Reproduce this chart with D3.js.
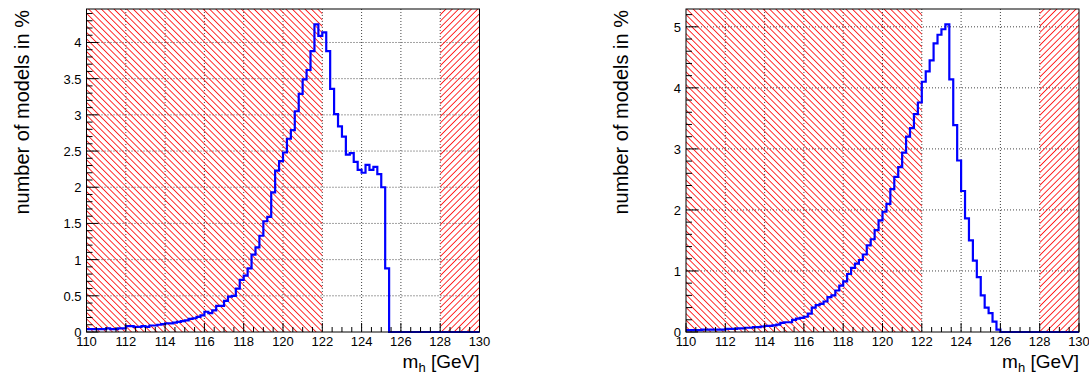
<!DOCTYPE html>
<html>
<head>
<meta charset="utf-8">
<script src="https://cdn.jsdelivr.net/npm/d3@7"></script>
<style>
  body { margin: 0; background: #fff; }
  text { font-family: "Liberation Sans", Arial, sans-serif; fill: #000; }
</style>
</head>
<body>
<div id="chart"></div>
<script>
// histogram bins: 100 bins of 0.2 GeV from 110 to 130
const massEdges = d3.range(0, 101).map(i => +(110 + i * 0.2).toFixed(1));

// left panel, % of models per bin
const leftValues = [
  0.04, 0.04, 0.04, 0.04, 0.04, 0.05, 0.04, 0.04, 0.05, 0.05,
  0.08, 0.08, 0.07, 0.07, 0.08, 0.07, 0.09, 0.09, 0.10, 0.11,
  0.12, 0.12, 0.13, 0.14, 0.15, 0.16, 0.18, 0.19, 0.21, 0.23,
  0.28, 0.26, 0.30, 0.36, 0.36, 0.43, 0.49, 0.50, 0.60, 0.72,
  0.78, 0.88, 1.07, 1.17, 1.33, 1.53, 1.59, 1.93, 2.23, 2.36,
  2.48, 2.67, 2.79, 3.05, 3.29, 3.49, 3.62, 3.88, 4.25, 4.09,
  4.14, 3.88, 3.36, 3.01, 2.84, 2.70, 2.45, 2.47, 2.35, 2.24,
  2.20, 2.31, 2.24, 2.28, 2.18, 2.00, 0.88, 0, 0, 0,
  0, 0, 0, 0, 0, 0, 0, 0, 0, 0,
  0, 0, 0, 0, 0, 0, 0, 0, 0, 0
];

// right panel, % of models per bin
const rightValues = [
  0.03, 0.03, 0.03, 0.03, 0.04, 0.04, 0.04, 0.04, 0.04, 0.04,
  0.05, 0.05, 0.05, 0.06, 0.06, 0.07, 0.07, 0.08, 0.08, 0.09,
  0.10, 0.10, 0.11, 0.12, 0.15, 0.16, 0.16, 0.20, 0.22, 0.23,
  0.25, 0.30, 0.40, 0.44, 0.46, 0.50, 0.57, 0.60, 0.68, 0.76,
  0.83, 0.95, 1.05, 1.12, 1.18, 1.27, 1.42, 1.52, 1.67, 1.83,
  1.97, 2.10, 2.34, 2.54, 2.70, 2.94, 3.20, 3.34, 3.57, 3.76,
  4.10, 4.27, 4.45, 4.73, 4.87, 4.96, 5.04, 4.14, 3.39, 2.81,
  2.31, 1.86, 1.50, 1.17, 0.90, 0.60, 0.40, 0.31, 0.17, 0.04,
  0, 0, 0, 0, 0, 0, 0, 0, 0, 0,
  0, 0, 0, 0, 0, 0, 0, 0, 0, 0
];

// excluded mass windows (hatched)
const excludedLow = [110, 122];
const excludedHigh = [128, 130];

const xMajorTicks = [110, 112, 114, 116, 118, 120, 122, 124, 126, 128, 130];
const leftYMajor = [0, 0.5, 1, 1.5, 2, 2.5, 3, 3.5, 4];
const rightYMajor = [0, 1, 2, 3, 4, 5];

const width = 1089;
const height = 375;

const svg = d3.select('#chart')
  .append('svg')
  .attr('width', width)
  .attr('height', height);

// hatch patterns
const defs = svg.append('defs');
function hatch(id, angle) {
  defs.append('pattern')
    .attr('id', id)
    .attr('patternUnits', 'userSpaceOnUse')
    .attr('width', 4.5)
    .attr('height', 4.5)
    .attr('patternTransform', `rotate(${angle})`)
    .append('line')
    .attr('x1', 0).attr('y1', 2.25)
    .attr('x2', 4.5).attr('y2', 2.25)
    .attr('stroke', '#ff1a1a')
    .attr('stroke-width', 0.9);
}
hatch('hatchBack', 45);
hatch('hatchFwd', -45);

function drawPanel(opts) {
  const { left, right, top, bottom, values, yMajor, yMinorStep, titleX } = opts;

  const x = d3.scaleLinear().domain([110, 130]).range([left, right]);
  const yMax = d3.max(values) * 1.05;
  const y = d3.scaleLinear().domain([0, yMax]).range([bottom, top]);

  const g = svg.append('g');

  // grid
  g.selectAll('.gx')
    .data(xMajorTicks.slice(1, -1))
    .enter().append('line')
    .attr('x1', d => x(d)).attr('x2', d => x(d))
    .attr('y1', top).attr('y2', bottom)
    .attr('stroke', '#444').attr('stroke-width', 1)
    .attr('stroke-dasharray', '1,2');
  g.selectAll('.gy')
    .data(yMajor.slice(1))
    .enter().append('line')
    .attr('x1', left).attr('x2', right)
    .attr('y1', d => y(d)).attr('y2', d => y(d))
    .attr('stroke', '#444').attr('stroke-width', 1)
    .attr('stroke-dasharray', '1,2');

  // hatched excluded windows
  g.append('rect')
    .attr('x', x(excludedLow[0])).attr('y', top)
    .attr('width', x(excludedLow[1]) - x(excludedLow[0]))
    .attr('height', bottom - top)
    .attr('fill', 'url(#hatchBack)');
  g.append('rect')
    .attr('x', x(excludedHigh[0])).attr('y', top)
    .attr('width', x(excludedHigh[1]) - x(excludedHigh[0]))
    .attr('height', bottom - top)
    .attr('fill', 'url(#hatchFwd)');

  // histogram as a step line
  const pts = [];
  values.forEach((v, i) => {
    pts.push([massEdges[i], v]);
    pts.push([massEdges[i + 1], v]);
  });
  const line = d3.line().x(d => x(d[0])).y(d => y(d[1]));
  g.append('path')
    .datum(pts)
    .attr('d', line)
    .attr('fill', 'none')
    .attr('stroke', '#0000ff')
    .attr('stroke-width', 2.2);

  // frame
  g.append('rect')
    .attr('x', left).attr('y', top)
    .attr('width', right - left).attr('height', bottom - top)
    .attr('fill', 'none').attr('stroke', '#000').attr('stroke-width', 1);

  // x ticks
  const xMinor = d3.range(110, 130.001, 0.5);
  g.selectAll('.xt')
    .data(xMinor)
    .enter().append('line')
    .attr('x1', d => x(d)).attr('x2', d => x(d))
    .attr('y1', bottom)
    .attr('y2', d => bottom - (Math.abs(d % 2) < 1e-6 ? 9 : 5))
    .attr('stroke', '#000');
  g.selectAll('.xl')
    .data(xMajorTicks)
    .enter().append('text')
    .attr('x', d => x(d)).attr('y', bottom + 14)
    .attr('text-anchor', 'middle')
    .attr('font-size', 13)
    .text(d => d);

  // y ticks
  const yMinor = d3.range(0, yMax + 1e-6, yMinorStep);
  const majorStep = yMajor[1];
  g.selectAll('.yt')
    .data(yMinor)
    .enter().append('line')
    .attr('x1', left)
    .attr('x2', d => {
      const r = d / majorStep;
      return left + (Math.abs(r - Math.round(r)) < 1e-6 ? 12 : 6);
    })
    .attr('y1', d => y(d)).attr('y2', d => y(d))
    .attr('stroke', '#000');
  g.selectAll('.yl')
    .data(yMajor)
    .enter().append('text')
    .attr('x', left - 5).attr('y', d => y(d) + 5)
    .attr('text-anchor', 'end')
    .attr('font-size', 13)
    .text(d => d);

  // axis titles
  const xt = g.append('text')
    .attr('x', right).attr('y', 368)
    .attr('text-anchor', 'end')
    .attr('font-size', 19);
  xt.append('tspan').text('m');
  xt.append('tspan').attr('font-size', 13).attr('dy', 4).text('h');
  xt.append('tspan').attr('dy', -4).text(' [GeV]');

  g.append('text')
    .attr('transform', `translate(${titleX},${top + 1}) rotate(-90)`)
    .attr('text-anchor', 'end')
    .attr('font-size', 20)
    .text('number of models in %');
}

drawPanel({
  left: 86.5, right: 479.5, top: 9, bottom: 332,
  values: leftValues, yMajor: leftYMajor, yMinorStep: 0.1, titleX: 29
});
drawPanel({
  left: 686, right: 1079, top: 9, bottom: 332,
  values: rightValues, yMajor: rightYMajor, yMinorStep: 0.2, titleX: 628
});
</script>
</body>
</html>
